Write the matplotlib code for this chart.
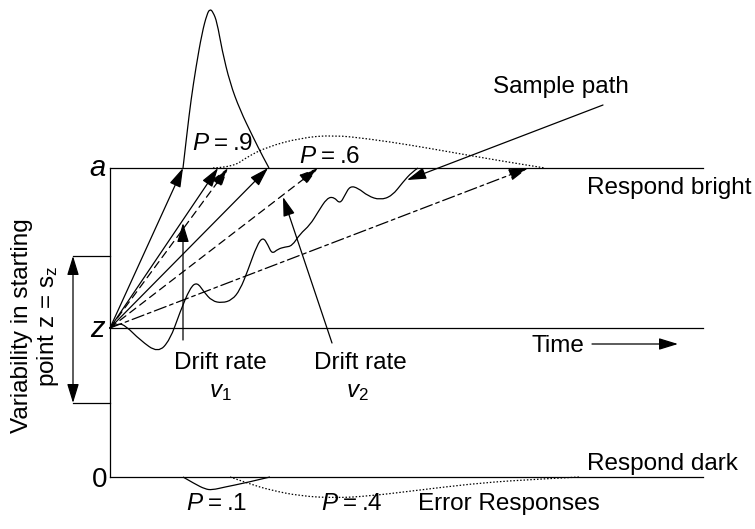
import numpy as np
import matplotlib
matplotlib.use('Agg')
import matplotlib.pyplot as plt
from matplotlib.path import Path
from matplotlib.patches import PathPatch

plt.rcParams['font.family'] = ['Liberation Sans', 'DejaVu Sans']
plt.rcParams['mathtext.fontset'] = 'custom'
plt.rcParams['mathtext.rm'] = 'Liberation Sans'
plt.rcParams['mathtext.it'] = 'Liberation Sans:italic'

# ---- diagram geometry (picture units, y grows downwards) ----
x_start = 110
x_end = 703
y_a = 168          # upper boundary "a"
y_z = 328          # starting point "z"
y_0 = 477          # lower boundary "0"
sz_top = 256       # starting point range
sz_bot = 403
sz_x = 73

# drift arrows from z to the upper boundary: end x and line style
drift_end_x = [183, 218, 228, 268, 318, 528]
drift_style = ['-', '-', (0, (6, 4)), '-', (0, (6, 4)), (0, (10, 3, 3, 3))]

# correct response distributions (above a)
top_solid_x = [183, 187, 191, 196, 202, 207, 210, 213, 217, 222, 230, 240, 253, 263, 269]
top_solid_y = [168, 133, 100, 67, 33, 14, 9, 12, 22, 50, 83, 110, 137, 157, 168]
top_dot_x = [213, 233, 247, 267, 300, 333, 370, 410, 450, 490, 520, 545]
top_dot_y = [168, 167, 157, 147, 138, 135, 139, 145, 152, 159, 164, 168]

# error response distributions (below 0)
bot_solid_x = [183, 195, 205, 212, 225, 245, 270]
bot_solid_y = [477, 484, 489, 490, 487, 483, 477]
bot_dot_x = [230, 250, 270, 300, 335, 370, 420, 470, 520, 580]
bot_dot_y = [477, 484, 490, 496, 498, 496, 490, 484, 480, 477]

# sample path
path_x = [110, 118, 126, 140, 158, 170, 180, 190, 197, 204, 212, 222, 232, 240, 248,
          257, 263, 268, 272, 278, 285, 292, 300, 310, 318, 327, 334, 340, 345, 350,
          358, 368, 380, 392, 403, 412, 418]
path_y = [328, 323, 326, 340, 353, 340, 312, 288, 282, 292, 301, 303, 300, 290, 270,
          245, 237, 245, 254, 249, 247, 246, 234, 225, 212, 198, 197, 204, 195, 186,
          188, 196, 200, 196, 182, 172, 168]

# pointer arrows: (start, tip)
pointers = [((183, 340), (183, 223)),    # drift rate v1
            ((332, 343), (283, 197)),    # drift rate v2
            ((603, 105), (407, 180))]    # sample path

head = '-|>,head_length=0.65,head_width=0.2'
lw = 0.9


def smooth(ax, xs, ys, **kw):
    pts = list(zip(xs, ys))
    verts = [pts[0]]
    codes = [Path.MOVETO]
    for i in range(1, len(pts) - 1):
        mid = ((pts[i][0] + pts[i + 1][0]) / 2, (pts[i][1] + pts[i + 1][1]) / 2)
        if i == len(pts) - 2:
            mid = pts[-1]
        verts += [pts[i], mid]
        codes += [Path.CURVE3, Path.CURVE3]
    ax.add_patch(PathPatch(Path(verts, codes), fill=False, **kw))


def arrow(ax, start, tip, ls='-', both=False):
    style = '<|-|>,head_length=0.65,head_width=0.2' if both else head
    ax.annotate('', xy=tip, xytext=start,
                arrowprops=dict(arrowstyle=style, color='black', lw=lw, linestyle=ls,
                                mutation_scale=18, shrinkA=0, shrinkB=0))


fig = plt.figure(figsize=(7.55, 5.29), dpi=100)
ax = fig.add_axes([0, 0, 1, 1])
ax.set_xlim(0, 755)
ax.set_ylim(529, 0)
ax.axis('off')

# boundaries
ax.plot([x_start, x_end], [y_a, y_a], color='black', lw=lw)
ax.plot([x_start, x_end], [y_z, y_z], color='black', lw=lw)
ax.plot([x_start, x_end], [y_0, y_0], color='black', lw=lw)
ax.plot([x_start, x_start], [y_a, y_0], color='black', lw=lw)
ax.plot([sz_x, x_start], [sz_top, sz_top], color='black', lw=lw)
ax.plot([sz_x, x_start], [sz_bot, sz_bot], color='black', lw=lw)
arrow(ax, (sz_x, sz_bot), (sz_x, sz_top), both=True)

# drift rate arrows
for ex, ls in zip(drift_end_x, drift_style):
    arrow(ax, (x_start, y_z), (ex, y_a), ls=ls)

# distributions
smooth(ax, top_solid_x, top_solid_y, color='black', lw=lw)
smooth(ax, top_dot_x, top_dot_y, color='black', lw=lw, linestyle=(0, (1.2, 1.5)))
smooth(ax, bot_solid_x, bot_solid_y, color='black', lw=lw)
smooth(ax, bot_dot_x, bot_dot_y, color='black', lw=lw, linestyle=(0, (1.2, 1.5)))

# sample path
smooth(ax, path_x, path_y, color='black', lw=lw)

for start, tip in pointers:
    arrow(ax, start, tip)

# time arrow
arrow(ax, (592, 344), (678, 344))

fs = 17.5
ts = '\u2009'
ax.text(106, 176, 'a', fontsize=21, style='italic', ha='right', va='baseline')
ax.text(105, 337, 'z', fontsize=21, style='italic', ha='right', va='baseline')
ax.text(107, 487, '0', fontsize=20, ha='right', va='baseline')
ax.text(36, 326, 'Variability in starting\npoint z = s$_\\mathregular{z}$', fontsize=fs,
        rotation=90, ha='center', va='center', linespacing=1.1)

ax.text(493, 93, 'Sample path', fontsize=fs, va='baseline')
ax.text(587, 194, 'Respond bright', fontsize=fs, va='baseline')
ax.text(587, 470, 'Respond dark', fontsize=fs, va='baseline')
ax.text(532, 352, 'Time', fontsize=fs, va='baseline')
ax.text(418, 510, 'Error Responses', fontsize=fs, va='baseline')
ax.text(192, 150, '$P$' + ts + '=' + ts + '.9', fontsize=fs, va='baseline')
ax.text(299, 163, '$P$' + ts + '=' + ts + '.6', fontsize=fs, va='baseline')
ax.text(186, 510, '$P$' + ts + '=' + ts + '.1', fontsize=fs, va='baseline')
ax.text(321, 510, '$P$' + ts + '=' + ts + '.4', fontsize=fs, va='baseline')
ax.text(220, 369, 'Drift rate', fontsize=fs, ha='center', va='baseline')
ax.text(220, 397, '$v_1$', fontsize=fs, ha='center', va='baseline')
ax.text(360, 369, 'Drift rate', fontsize=fs, ha='center', va='baseline')
ax.text(357, 397, '$v_2$', fontsize=fs, ha='center', va='baseline')

fig.savefig('out.png', dpi=100)
